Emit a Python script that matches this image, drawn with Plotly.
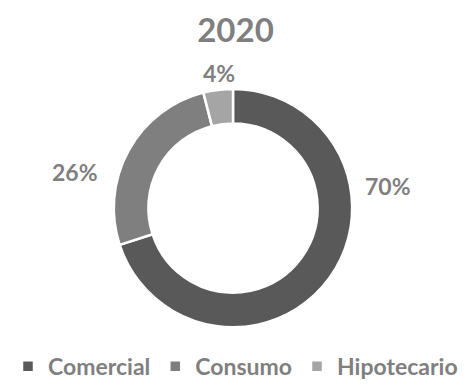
import plotly.graph_objects as go

# Loan portfolio composition, 2020
categories = ["Comercial", "Consumo", "Hipotecario"]
shares = [70, 26, 4]
colors = ["#595959", "#7f7f7f", "#a5a5a5"]
title_text = "2020"

# Where each percentage label sits (paper coordinates)
label_x = [0.824, 0.160, 0.466]
label_y = [0.510, 0.546, 0.808]

text_grey = "#7f7f7f"
font_family = "Lato, 'DejaVu Sans', sans-serif"

total = sum(shares)

fig = go.Figure(
    go.Pie(
        labels=categories,
        values=shares,
        hole=0.71,
        sort=False,
        direction="clockwise",
        rotation=0,
        marker=dict(colors=colors, line=dict(color="white", width=2.5)),
        textinfo="none",
        hoverinfo="label+percent",
        showlegend=True,
        domain=dict(x=[0.2357, 0.7537], y=[0.1366, 0.7655]),
    )
)

for value, lx, ly in zip(shares, label_x, label_y):
    fig.add_annotation(
        x=lx,
        y=ly,
        xref="paper",
        yref="paper",
        xanchor="center",
        yanchor="middle",
        showarrow=False,
        text=f"{round(100 * value / total)}%",
        font=dict(family=font_family, size=23, color=text_grey, weight="bold"),
    )

fig.update_layout(
    width=471,
    height=388,
    margin=dict(l=0, r=0, t=0, b=0),
    paper_bgcolor="white",
    plot_bgcolor="white",
    title=dict(
        text=title_text,
        x=0.5,
        xanchor="center",
        y=0.922,
        yanchor="middle",
        font=dict(family=font_family, size=33, color=text_grey, weight="bold"),
    ),
    legend=dict(
        orientation="h",
        x=0.5,
        xanchor="center",
        y=0.0335,
        yanchor="middle",
        font=dict(family=font_family, size=23, color=text_grey, weight="bold"),
        itemwidth=30,
        tracegroupgap=0,
    ),
)

fig.write_html("out.html")
